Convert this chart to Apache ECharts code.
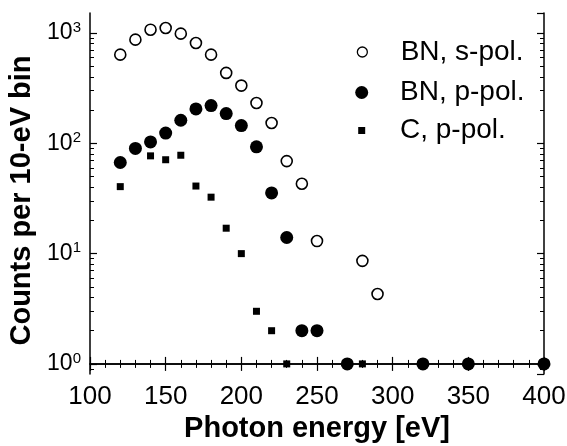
<!DOCTYPE html>
<html>
<head>
<meta charset="utf-8">
<script src="https://cdn.jsdelivr.net/npm/echarts@6/dist/echarts.min.js"></script>
<style>
  html, body { margin: 0; padding: 0; background: #fff; }
  #chart { width: 567px; height: 446px; }
</style>
</head>
<body>
<div id="chart"></div>
<script>
// BN, s-polarised (open circles)
const energyS = [120, 130, 140, 150, 160, 170, 180, 190, 200, 210, 220, 230, 240, 250, 280, 290];
const countsS = [637, 871, 1073, 1112, 988, 813, 637, 435, 334, 232, 153, 69, 43, 13, 8.6, 4.3];
// BN, p-polarised (filled circles)
const energyP = [120, 130, 140, 150, 160, 170, 180, 190, 200, 210, 220, 230, 240, 250, 270, 320, 350, 400];
const countsP = [67, 90, 103, 124, 162, 205, 220, 186, 145, 93, 35.5, 14, 2, 2, 1, 1, 1, 1];
// C, p-polarised (squares)
const energyC = [120, 140, 150, 160, 170, 180, 190, 200, 210, 220, 230, 280];
const countsC = [40.5, 77, 71, 78, 41, 32.5, 17, 10, 3, 2, 1, 1];

const seriesNames = ['BN, s-pol.', 'BN, p-pol.', 'C, p-pol.'];
const xTicks = [100, 150, 200, 250, 300, 350, 400];

const FONT = '"Liberation Sans", Arial, Helvetica, sans-serif';
const yMin = 0.81, yMax = 1520;
const lgMin = Math.log10(yMin), lgMax = Math.log10(yMax);

// minor ticks of the log axis, 2..9 in every decade (log10 space)
let minorLog = [];
[-1, 0, 1, 2, 3].forEach(function (d) {
    for (let m = 2; m <= 9; m++) {
        let v = d + Math.log10(m);
        if (v > lgMin && v < lgMax) minorLog.push(v);
    }
});

const axisLine = {show: true, lineStyle: {color: '#000', width: 1.5}};

function pairs(xs, ys) {
    return xs.map(function (x, i) { return [x, ys[i]]; });
}

const chart = echarts.init(document.getElementById('chart'));

let xBase = {
    type: 'value',
    min: xTicks[0],
    max: xTicks[xTicks.length - 1],
    interval: 50,
    axisLine: axisLine,
    axisTick: {show: true, inside: true, length: 7, lineStyle: {color: '#000', width: 1.2}},
    minorTick: {show: true, splitNumber: 5, length: 4, lineStyle: {color: '#000', width: 1}},
    splitLine: {show: false},
    minorSplitLine: {show: false}
};

let logBase = {
    type: 'log',
    logBase: 10,
    min: yMin,
    max: yMax,
    axisLine: axisLine,
    axisTick: {show: true, inside: true, length: 7, lineStyle: {color: '#000', width: 1.2}},
    splitLine: {show: false}
};

let minorBase = {
    type: 'value',
    min: lgMin,
    max: lgMax,
    axisLine: {show: false},
    axisLabel: {show: false},
    splitLine: {show: false},
    axisTick: {show: true, inside: true, length: 4, customValues: minorLog, lineStyle: {color: '#000', width: 1}}
};

// legend text starts at x=400, symbols centred at x~362
function legendText(padLeft) {
    return {fontSize: 28, lineHeight: 28, fontFamily: FONT, color: '#000', padding: [0, 0, 0, padLeft]};
}

const option = {
    animation: false,
    backgroundColor: '#fff',
    grid: {left: 90, right: 23, top: 13, bottom: 72, containLabel: false, outerBoundsMode: 'none'},
    xAxis: [
        Object.assign({}, xBase, {
            position: 'bottom',
            axisLabel: {show: true, margin: 10, fontSize: 26, fontFamily: FONT, color: '#000'},
            name: 'Photon energy [eV]',
            nameLocation: 'middle',
            nameGap: 38,
            nameTextStyle: {fontSize: 29, fontWeight: 'bold', fontFamily: FONT, color: '#000'}
        }),
        Object.assign({}, xBase, {position: 'top', axisLabel: {show: false}})
    ],
    yAxis: [
        Object.assign({}, logBase, {
            position: 'left',
            axisLabel: {
                show: true,
                margin: 9,
                showMinLabel: false,
                showMaxLabel: false,
                formatter: function (v) {
                    return '{b|10}{s|' + Math.round(Math.log10(v)) + '}';
                },
                rich: {
                    b: {fontSize: 23, fontFamily: FONT, color: '#000', lineHeight: 26},
                    s: {fontSize: 15, fontFamily: FONT, color: '#000', verticalAlign: 'top', lineHeight: 15}
                }
            },
            name: 'Counts per 10-eV bin',
            nameLocation: 'middle',
            nameGap: 49,
            nameTextStyle: {fontSize: 29, fontWeight: 'bold', fontFamily: FONT, color: '#000', padding: [0, 14, 0, 0]}
        }),
        Object.assign({}, logBase, {position: 'right', axisLabel: {show: false}}),
        Object.assign({}, minorBase, {position: 'left'}),
        Object.assign({}, minorBase, {position: 'right'})
    ],
    legend: [
        {
            data: [{name: seriesNames[0], icon: 'circle'}],
            left: 356.7, top: 38, padding: 0, itemWidth: 10, itemHeight: 10, selectedMode: false,
            itemStyle: {color: '#fff', borderColor: '#000', borderWidth: 1.3},
            textStyle: legendText(28.3)
        },
        {
            data: [{name: seriesNames[1], icon: 'circle'}],
            left: 355.2, top: 78.5, padding: 0, itemWidth: 13, itemHeight: 13, selectedMode: false,
            textStyle: legendText(26.8)
        },
        {
            data: [{name: seriesNames[2], icon: 'rect'}],
            left: 358.2, top: 116.5, padding: 0, itemWidth: 7, itemHeight: 7, selectedMode: false,
            textStyle: legendText(29.8)
        }
    ],
    series: [
        {
            name: seriesNames[0],
            type: 'scatter',
            xAxisIndex: 0, yAxisIndex: 0,
            symbol: 'circle',
            symbolSize: 11,
            clip: false,
            itemStyle: {color: '#fff', borderColor: '#000', borderWidth: 1.6, opacity: 1},
            data: pairs(energyS, countsS)
        },
        {
            name: seriesNames[1],
            type: 'scatter',
            xAxisIndex: 0, yAxisIndex: 0,
            symbol: 'circle',
            symbolSize: 13,
            clip: false,
            itemStyle: {color: '#000', opacity: 1},
            data: pairs(energyP, countsP)
        },
        {
            name: seriesNames[2],
            type: 'scatter',
            xAxisIndex: 0, yAxisIndex: 0,
            symbol: 'rect',
            symbolSize: 7,
            clip: false,
            itemStyle: {color: '#000', opacity: 1},
            data: pairs(energyC, countsC)
        }
    ]
};

chart.setOption(option);
</script>
</body>
</html>
